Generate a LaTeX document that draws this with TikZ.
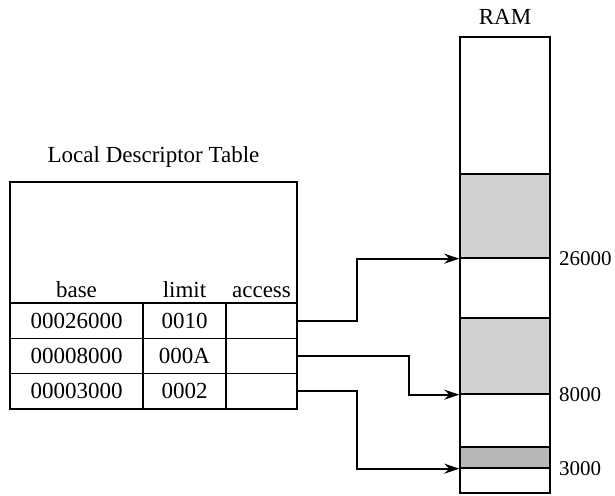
\documentclass[tikz,border=0pt]{standalone}
\usepackage{fontspec}
\setmainfont{Liberation Serif}
\usetikzlibrary{arrows.meta}
\begin{document}
\begin{tikzpicture}[x=1pt,y=-1pt,
  txt/.style={font=\fontsize{23}{27}\selectfont, inner sep=0pt},
  addr/.style={font=\fontsize{21}{25}\selectfont, inner sep=0pt, anchor=west},
  cell/.style={draw, line width=1.3pt, font=\fontsize{23}{27}\selectfont, inner sep=0pt, minimum height=35.3pt},
  memseg/.style={draw, line width=1.3pt, fill=black!18, minimum width=90pt, inner sep=0pt},
  arr/.style={line width=2pt, line join=miter, -{Stealth[length=15pt,width=10pt]}}]
\useasboundingbox (0,0) rectangle (615,495);
% title
\node[txt] (title) at (153.5,157) {Local Descriptor Table};
% header box
\node[draw, line width=1.3pt, minimum width=287pt, minimum height=121pt, inner sep=0pt] (hdr) at (153.5,242.5) {};
\node[txt, anchor=base] (hbase) at (76.5,297) {base};
\node[txt, anchor=base] (hlimit) at (184.5,297) {limit};
\node[txt, anchor=base] (hacc) at (261.5,297) {access};
% rows
\node[cell, minimum width=133pt] (b1) at (76.5,320.7) {00026000};
\node[cell, minimum width=83pt] (l1) at (184.5,320.7) {0010};
\node[cell, minimum width=71pt] (a1) at (261.5,320.7) {};
\node[cell, minimum width=133pt] (b2) at (76.5,356) {00008000};
\node[cell, minimum width=83pt] (l2) at (184.5,356) {000A};
\node[cell, minimum width=71pt] (a2) at (261.5,356) {};
\node[cell, minimum width=133pt] (b3) at (76.5,391.3) {00003000};
\node[cell, minimum width=83pt] (l3) at (184.5,391.3) {0002};
\node[cell, minimum width=71pt] (a3) at (261.5,391.3) {};
% RAM
\node[txt, anchor=base] (ramlbl) at (505,25) {RAM};
\node[draw, line width=1.3pt, minimum width=90pt, minimum height=456pt, inner sep=0pt] (ram) at (505,265) {};
\node[memseg, minimum height=84pt] (s1) at (505,216) {};
\node[memseg, minimum height=76pt] (s2) at (505,356) {};
\node[memseg, minimum height=21pt, fill=black!28] (s3) at (505,457.5) {};
\node[addr] (l26) at (559,259) {26000};
\node[addr] (l8) at (559,395) {8000};
\node[addr] (l3k) at (559,469) {3000};
% connectors
\coordinate (k1) at (357,0);
\coordinate (k2) at (409,0);
\draw[arr] (a1.east) -| (k1 |- s1.south west) -- (s1.south west);
\draw[arr] (a2.east) -| (k2 |- s2.south west) -- (s2.south west);
\draw[arr] (a3.east) -| (k1 |- s3.south west) -- (s3.south west);
\end{tikzpicture}
\end{document}
